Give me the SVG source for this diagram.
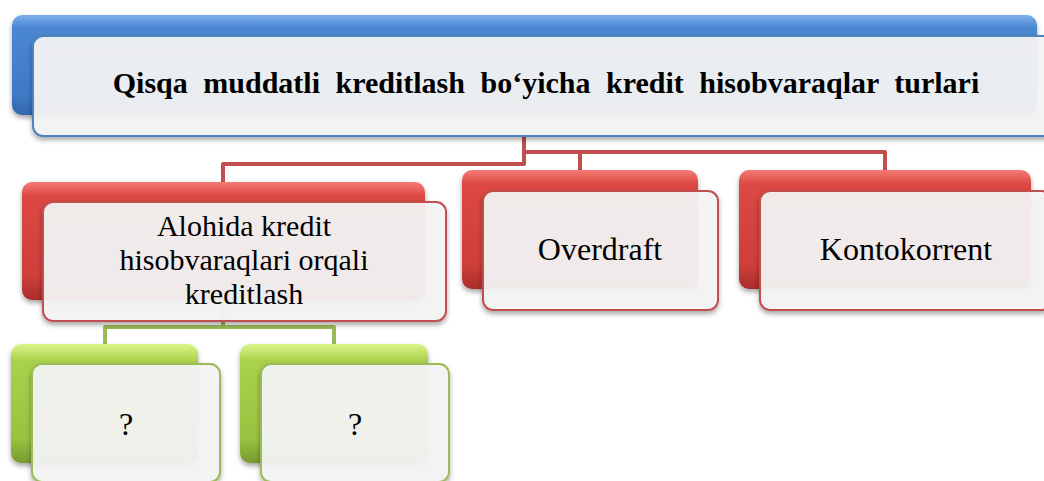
<svg xmlns="http://www.w3.org/2000/svg" width="1044" height="481" viewBox="0 0 1044 481">
  <defs>
    <linearGradient id="gBlue" x1="0" y1="0" x2="0" y2="1">
      <stop offset="0" stop-color="#7fb0ec"/>
      <stop offset="0.12" stop-color="#4c88d2"/>
      <stop offset="0.8" stop-color="#3f79c4"/>
      <stop offset="1" stop-color="#3267ab"/>
    </linearGradient>
    <linearGradient id="gRed" x1="0" y1="0" x2="0" y2="1">
      <stop offset="0" stop-color="#f47a74"/>
      <stop offset="0.12" stop-color="#dc4843"/>
      <stop offset="0.8" stop-color="#cf3f3a"/>
      <stop offset="1" stop-color="#a92d2a"/>
    </linearGradient>
    <linearGradient id="gGreen" x1="0" y1="0" x2="0" y2="1">
      <stop offset="0" stop-color="#dcf58a"/>
      <stop offset="0.14" stop-color="#a9d14c"/>
      <stop offset="0.8" stop-color="#99c240"/>
      <stop offset="1" stop-color="#769a2e"/>
    </linearGradient>
    <filter id="sh" x="-10%" y="-10%" width="120%" height="130%">
      <feDropShadow dx="0" dy="3" stdDeviation="2.5" flood-color="#000" flood-opacity="0.35"/>
    </filter>
  </defs>
  <style>
    .back { filter: url(#sh); }
    .front { fill: #f5f5f5; fill-opacity: 0.93; stroke-width: 2; filter: url(#sh); }
    .fb { stroke: #4f81bd; }
    .fr { stroke: #c0504d; }
    .fg { stroke: #9bbb59; }
    .conn { fill: none; stroke-width: 4; stroke-linejoin: round; }
    .t { font-family: "Liberation Serif", "Times New Roman", serif; font-size: 32px; fill: #000; text-anchor: middle; }
    .t2 { font-size: 30px; }
    .title { font-family: "Liberation Serif", "Times New Roman", serif; font-size: 30px; font-weight: bold; word-spacing: 8px; fill: #000; text-anchor: middle; }
  </style>
  <rect width="1044" height="481" fill="#ffffff"/>

  <g id="connectors">
    <path class="conn" stroke="#c0504d" d="M524,136 V164 H223 V183"/>
    <path class="conn" stroke="#c0504d" d="M524,150 V152 H885 V171"/>
    <path class="conn" stroke="#c0504d" d="M580,152 V171"/>
    <path class="conn" stroke="#9bbb59" d="M223,300 V327 H105 V345"/>
    <path class="conn" stroke="#9bbb59" d="M223,327 H334 V345"/>
  </g>

  <g id="node-title">
    <rect class="back" x="12" y="15" width="1025" height="100" rx="10" fill="url(#gBlue)"/>
    <rect class="front fb" x="33" y="36" width="1025" height="100" rx="10"/>
    <text class="title" x="546" y="93">Qisqa muddatli kreditlash bo‘yicha kredit hisobvaraqlar turlari</text>
  </g>

  <g id="node-alohida">
    <rect class="back" x="22" y="182" width="403" height="118" rx="10" fill="url(#gRed)"/>
    <rect class="front fr" x="43" y="202" width="403" height="119" rx="10"/>
    <text class="t t2" x="244" y="236">Alohida kredit</text>
    <text class="t t2" x="244" y="270">hisobvaraqlari orqali</text>
    <text class="t t2" x="244" y="304">kreditlash</text>
  </g>

  <g id="node-overdraft">
    <rect class="back" x="462" y="170" width="236" height="119" rx="10" fill="url(#gRed)"/>
    <rect class="front fr" x="483" y="191" width="235" height="119" rx="10"/>
    <text class="t" x="600" y="260">Overdraft</text>
  </g>

  <g id="node-kontokorrent">
    <rect class="back" x="739" y="170" width="292" height="119" rx="10" fill="url(#gRed)"/>
    <rect class="front fr" x="760" y="191" width="292" height="119" rx="10"/>
    <text class="t" x="906" y="260">Kontokorrent</text>
  </g>

  <g id="node-q1">
    <rect class="back" x="11" y="344" width="187" height="119" rx="10" fill="url(#gGreen)"/>
    <rect class="front fg" x="32" y="364" width="188" height="118" rx="10"/>
    <text class="t" x="126" y="435">?</text>
  </g>

  <g id="node-q2">
    <rect class="back" x="240" y="344" width="188" height="119" rx="10" fill="url(#gGreen)"/>
    <rect class="front fg" x="261" y="364" width="188" height="118" rx="10"/>
    <text class="t" x="355" y="435">?</text>
  </g>
</svg>
